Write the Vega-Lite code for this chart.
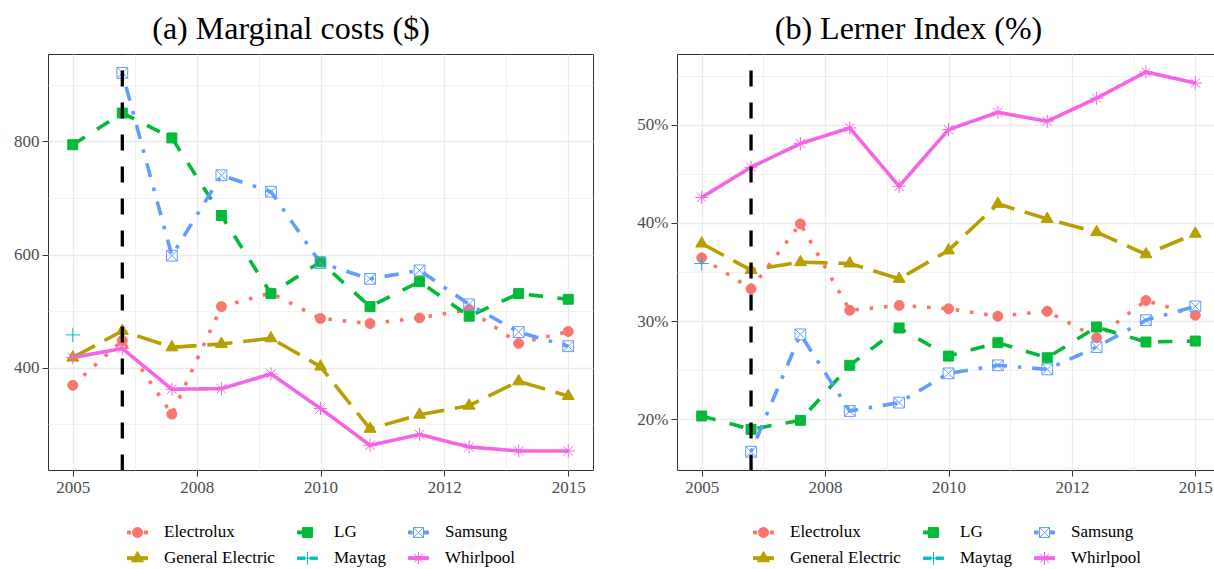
{
  "$schema": "https://vega.github.io/schema/vega-lite/v6.json",
  "padding": {"left": 0, "top": 12, "right": 0, "bottom": 0},
  "data": {"values": [
    {"company": "Electrolux", "year": 2005, "mc": 369, "lerner": 0.3645},
    {"company": "Electrolux", "year": 2006, "mc": 448, "lerner": 0.333},
    {"company": "Electrolux", "year": 2007, "mc": 318, "lerner": 0.399},
    {"company": "Electrolux", "year": 2008, "mc": 508, "lerner": 0.311},
    {"company": "Electrolux", "year": 2009, "mc": 532, "lerner": 0.316},
    {"company": "Electrolux", "year": 2010, "mc": 487, "lerner": 0.3126},
    {"company": "Electrolux", "year": 2011, "mc": 478, "lerner": 0.305},
    {"company": "Electrolux", "year": 2012, "mc": 488, "lerner": 0.310},
    {"company": "Electrolux", "year": 2013, "mc": 503, "lerner": 0.283},
    {"company": "Electrolux", "year": 2014, "mc": 443, "lerner": 0.321},
    {"company": "Electrolux", "year": 2015, "mc": 464, "lerner": 0.306},
    {"company": "General Electric", "year": 2005, "mc": 418, "lerner": 0.379},
    {"company": "General Electric", "year": 2006, "mc": 465, "lerner": 0.352},
    {"company": "General Electric", "year": 2007, "mc": 436, "lerner": 0.360},
    {"company": "General Electric", "year": 2008, "mc": 442, "lerner": 0.3587},
    {"company": "General Electric", "year": 2009, "mc": 452, "lerner": 0.343},
    {"company": "General Electric", "year": 2010, "mc": 402, "lerner": 0.372},
    {"company": "General Electric", "year": 2011, "mc": 292, "lerner": 0.4194},
    {"company": "General Electric", "year": 2012, "mc": 317, "lerner": 0.404},
    {"company": "General Electric", "year": 2013, "mc": 333, "lerner": 0.3906},
    {"company": "General Electric", "year": 2014, "mc": 376, "lerner": 0.368},
    {"company": "General Electric", "year": 2015, "mc": 350, "lerner": 0.389},
    {"company": "LG", "year": 2005, "mc": 794, "lerner": 0.2034},
    {"company": "LG", "year": 2006, "mc": 850, "lerner": 0.1898},
    {"company": "LG", "year": 2007, "mc": 806, "lerner": 0.199},
    {"company": "LG", "year": 2008, "mc": 669, "lerner": 0.255},
    {"company": "LG", "year": 2009, "mc": 531, "lerner": 0.293},
    {"company": "LG", "year": 2010, "mc": 587, "lerner": 0.2644},
    {"company": "LG", "year": 2011, "mc": 508, "lerner": 0.278},
    {"company": "LG", "year": 2012, "mc": 552, "lerner": 0.2627},
    {"company": "LG", "year": 2013, "mc": 491, "lerner": 0.294},
    {"company": "LG", "year": 2014, "mc": 531, "lerner": 0.2787},
    {"company": "LG", "year": 2015, "mc": 521, "lerner": 0.2797},
    {"company": "Maytag", "year": 2005, "mc": 458, "lerner": 0.3587},
    {"company": "Samsung", "year": 2006, "mc": 921, "lerner": 0.167},
    {"company": "Samsung", "year": 2007, "mc": 598, "lerner": 0.2865},
    {"company": "Samsung", "year": 2008, "mc": 740, "lerner": 0.2085},
    {"company": "Samsung", "year": 2009, "mc": 711, "lerner": 0.217},
    {"company": "Samsung", "year": 2010, "mc": 585, "lerner": 0.2468},
    {"company": "Samsung", "year": 2011, "mc": 557, "lerner": 0.255},
    {"company": "Samsung", "year": 2012, "mc": 572, "lerner": 0.2509},
    {"company": "Samsung", "year": 2013, "mc": 512, "lerner": 0.2736},
    {"company": "Samsung", "year": 2014, "mc": 463, "lerner": 0.301},
    {"company": "Samsung", "year": 2015, "mc": 438, "lerner": 0.315},
    {"company": "Whirlpool", "year": 2005, "mc": 418, "lerner": 0.426},
    {"company": "Whirlpool", "year": 2006, "mc": 434, "lerner": 0.4567},
    {"company": "Whirlpool", "year": 2007, "mc": 362, "lerner": 0.4808},
    {"company": "Whirlpool", "year": 2008, "mc": 363, "lerner": 0.4967},
    {"company": "Whirlpool", "year": 2009, "mc": 389, "lerner": 0.4373},
    {"company": "Whirlpool", "year": 2010, "mc": 328, "lerner": 0.495},
    {"company": "Whirlpool", "year": 2011, "mc": 263, "lerner": 0.5126},
    {"company": "Whirlpool", "year": 2012, "mc": 282, "lerner": 0.5035},
    {"company": "Whirlpool", "year": 2013, "mc": 260, "lerner": 0.527},
    {"company": "Whirlpool", "year": 2014, "mc": 253, "lerner": 0.5537},
    {"company": "Whirlpool", "year": 2015, "mc": 253, "lerner": 0.5425}
  ]},
  "spacing": 42,
  "hconcat": [
    {
      "title": {"text": "(a) Marginal costs ($)", "fontSize": 32, "font": "Liberation Serif", "fontWeight": "normal", "color": "#000000", "offset": 6.3, "dx": -29.5},
      "width": 545,
      "height": 416,
      "resolve": {
        "scale": {"fill": "independent", "stroke": "independent", "shape": "independent", "strokeDash": "independent"},
        "legend": {"fill": "independent", "stroke": "independent", "shape": "independent", "strokeDash": "independent"}
      },
      "layer": [
        {
          "mark": {"type": "line", "strokeWidth": 3.6, "strokeCap": "butt"},
          "encoding": {
            "x": {"field": "year", "type": "quantitative", "scale": {"domain": [2004.5, 2015.5], "nice": false, "zero": false},
              "axis": {"title": null, "values": [2005, 2006.25, 2007.5, 2008.75, 2010, 2011.25, 2012.5, 2013.75, 2015],
                "labelExpr": "datum.value == 2005 ? '2005' : datum.value == 2007.5 ? '2008' : datum.value == 2010 ? '2010' : datum.value == 2012.5 ? '2012' : datum.value == 2015 ? '2015' : ''",
                "labelFlush": false, "labelOverlap": false, "grid": true,
                "gridWidth": {"condition": {"test": "(datum.value - 2005) % 2.5 == 0", "value": 1.3}, "value": 0.7},
                "tickOpacity": {"condition": {"test": "(datum.value - 2005) % 2.5 == 0", "value": 1}, "value": 0}}},
            "y": {"field": "mc", "type": "quantitative", "scale": {"domain": [219.3, 954.3], "nice": false, "zero": false},
              "axis": {"title": null, "values": [300, 400, 500, 600, 700, 800, 900],
                "labelExpr": "datum.value % 200 == 0 ? datum.label : ''",
                "labelFlush": false, "labelOverlap": false, "grid": true, "minExtent": 47, "maxExtent": 47,
                "gridWidth": {"condition": {"test": "datum.value % 200 == 0", "value": 1.3}, "value": 0.7},
                "tickOpacity": {"condition": {"test": "datum.value % 200 == 0", "value": 1}, "value": 0}}},
            "stroke": {"field": "company", "type": "nominal", "legend": null,
              "scale": {"domain": ["Electrolux", "General Electric", "LG", "Maytag", "Samsung", "Whirlpool"],
                "range": ["#F8766D", "#B79F00", "#00BA38", "#00BFC4", "#619CFF", "#F564E3"]}},
            "strokeDash": {"field": "company", "type": "nominal", "legend": null,
              "scale": {"domain": ["Electrolux", "General Electric", "LG", "Maytag", "Samsung", "Whirlpool"],
                "range": [[3.6, 10.8], [25.2, 10.8], [14.4, 14.4], [1, 0], [3.6, 10.8, 14.4, 10.8], [1, 0]]}}
          }
        },
        {
          "mark": {"type": "point", "filled": true, "opacity": 1, "size": 144, "strokeWidth": 1},
          "encoding": {
            "x": {"field": "year", "type": "quantitative", "scale": {"domain": [2004.5, 2015.5], "nice": false, "zero": false}},
            "y": {"field": "mc", "type": "quantitative", "scale": {"domain": [219.3, 954.3], "nice": false, "zero": false}},
            "fill": {"field": "company", "type": "nominal", "legend": null,
              "scale": {"domain": ["Electrolux", "General Electric", "LG", "Maytag", "Samsung", "Whirlpool"],
                "range": ["#F8766D", "#B79F00", "#00BA38", "#00BFC4", "#619CFF", "#F564E3"]}},
            "stroke": {"field": "company", "type": "nominal", "legend": null,
              "scale": {"domain": ["Electrolux", "General Electric", "LG", "Maytag", "Samsung", "Whirlpool"],
                "range": ["#F8766D", "#B79F00", "#00BA38", "#00BFC4", "#619CFF", "#F564E3"]}},
            "shape": {"field": "company", "type": "nominal", "legend": null,
              "scale": {"domain": ["Electrolux", "General Electric", "LG", "Maytag", "Samsung", "Whirlpool"],
                "range": [
                  "M-0.83,0A0.83,0.83 0 1,0 0.83,0A0.83,0.83 0 1,0 -0.83,0Z",
                  "M0,-1.15L1.0,0.58L-1.0,0.58Z",
                  "M-0.83,-0.83H0.83V0.83H-0.83Z",
                  "M0,-1.2V1.2M-1.2,0H1.2",
                  "M-0.9,-0.9H0.9M0.9,-0.9V0.9M0.9,0.9H-0.9M-0.9,0.9V-0.9M-0.9,-0.9L0.9,0.9M-0.9,0.9L0.9,-0.9",
                  "M0,-1.1V1.1M-1.1,0H1.1M-0.78,-0.78L0.78,0.78M-0.78,0.78L0.78,-0.78"
                ]}}
          }
        },
        {
          "transform": [{"filter": "false"}],
          "mark": {"type": "point", "filled": true, "opacity": 1, "strokeWidth": 1},
          "encoding": {
            "fill": {"field": "company", "type": "nominal",
              "legend": {"orient": "none", "legendX": 79, "legendY": 467.7, "direction": "horizontal", "columns": 3, "title": null, "symbolSize": 400, "symbolStrokeWidth": 1, "labelFontSize": 17, "labelFont": "Liberation Serif", "labelColor": "#000000", "labelOffset": 16, "columnPadding": 20, "rowPadding": 7, "padding": 0},
              "scale": {"domain": ["Electrolux", "LG", "Samsung", "General Electric", "Maytag", "Whirlpool"],
                "range": ["#F8766D", "#00BA38", "#619CFF", "#B79F00", "#00BFC4", "#F564E3"]}},
            "stroke": {"field": "company", "type": "nominal",
              "legend": {"orient": "none", "legendX": 79, "legendY": 467.7, "direction": "horizontal", "columns": 3, "title": null, "symbolSize": 400, "symbolStrokeWidth": 1, "labelFontSize": 17, "labelFont": "Liberation Serif", "labelColor": "#000000", "labelOffset": 16, "columnPadding": 20, "rowPadding": 7, "padding": 0},
              "scale": {"domain": ["Electrolux", "LG", "Samsung", "General Electric", "Maytag", "Whirlpool"],
                "range": ["#F8766D", "#00BA38", "#619CFF", "#B79F00", "#00BFC4", "#F564E3"]}},
            "shape": {"field": "company", "type": "nominal",
              "legend": {"orient": "none", "legendX": 79, "legendY": 467.7, "direction": "horizontal", "columns": 3, "title": null, "symbolSize": 400, "symbolStrokeWidth": 1, "labelFontSize": 17, "labelFont": "Liberation Serif", "labelColor": "#000000", "labelOffset": 16, "columnPadding": 20, "rowPadding": 7, "padding": 0},
              "scale": {"domain": ["Electrolux", "LG", "Samsung", "General Electric", "Maytag", "Whirlpool"],
                "range": [
                  "M-1,-0.15H-0.68V0.15H-1Z M0.68,-0.15H1V0.15H0.68Z M-0.5,0A0.5,0.5 0 1,0 0.5,0A0.5,0.5 0 1,0 -0.5,0Z",
                  "M-1,-0.15H0V0.15H-1Z M-0.5,-0.5H0.5V0.5H-0.5Z",
                  "M-1,-0.15H-0.64V0.15H-1Z M0.5,-0.15H1V0.15H0.5Z M-0.5,-0.5H0.5M0.5,-0.5V0.5M0.5,0.5H-0.5M-0.5,0.5V-0.5M-0.5,-0.5L0.5,0.5M-0.5,0.5L0.5,-0.5",
                  "M-1,-0.15H1V0.15H-1Z M0,-0.68L0.6,0.36L-0.6,0.36Z",
                  "M-1,-0.12H-0.25V0.12H-1Z M0.25,-0.12H1V0.12H0.25Z M0,-0.65V0.65M-0.65,0H0.65",
                  "M-1,-0.15H1V0.15H-1Z M0,-0.62V0.62M-0.62,0H0.62M-0.44,-0.44L0.44,0.44M-0.44,0.44L0.44,-0.44"
                ]}}
          }
        },
        {
          "data": {"values": [{"event": 2006}]},
          "mark": {"type": "rule", "color": "#000000", "strokeWidth": 3.3, "strokeDash": [16, 16], "strokeDashOffset": 15.6},
          "encoding": {
            "x": {"field": "event", "type": "quantitative", "scale": {"domain": [2004.5, 2015.5], "nice": false, "zero": false}}
          }
        }
      ]
    },
    {
      "title": {"text": "(b) Lerner Index (%)", "fontSize": 32, "font": "Liberation Serif", "fontWeight": "normal", "color": "#000000", "offset": 6.3, "dx": -40},
      "width": 543,
      "height": 416,
      "resolve": {
        "scale": {"fill": "independent", "stroke": "independent", "shape": "independent", "strokeDash": "independent"},
        "legend": {"fill": "independent", "stroke": "independent", "shape": "independent", "strokeDash": "independent"}
      },
      "layer": [
        {
          "mark": {"type": "line", "strokeWidth": 3.6, "strokeCap": "butt"},
          "encoding": {
            "x": {"field": "year", "type": "quantitative", "scale": {"domain": [2004.5, 2015.5], "nice": false, "zero": false},
              "axis": {"title": null, "values": [2005, 2006.25, 2007.5, 2008.75, 2010, 2011.25, 2012.5, 2013.75, 2015],
                "labelExpr": "datum.value == 2005 ? '2005' : datum.value == 2007.5 ? '2008' : datum.value == 2010 ? '2010' : datum.value == 2012.5 ? '2012' : datum.value == 2015 ? '2015' : ''",
                "labelFlush": false, "labelOverlap": false, "grid": true,
                "gridWidth": {"condition": {"test": "(datum.value - 2005) % 2.5 == 0", "value": 1.3}, "value": 0.7},
                "tickOpacity": {"condition": {"test": "(datum.value - 2005) % 2.5 == 0", "value": 1}, "value": 0}}},
            "y": {"field": "lerner", "type": "quantitative", "scale": {"domain": [0.1484, 0.572], "nice": false, "zero": false},
              "axis": {"title": null, "values": [0.15, 0.2, 0.25, 0.3, 0.35, 0.4, 0.45, 0.5, 0.55], "format": ".0%",
                "labelExpr": "round(datum.value * 100) % 10 == 0 ? datum.label : ''",
                "labelFlush": false, "labelOverlap": false, "grid": true, "minExtent": 40, "maxExtent": 40,
                "gridWidth": {"condition": {"test": "round(datum.value * 100) % 10 == 0", "value": 1.3}, "value": 0.7},
                "tickOpacity": {"condition": {"test": "round(datum.value * 100) % 10 == 0", "value": 1}, "value": 0}}},
            "stroke": {"field": "company", "type": "nominal", "legend": null,
              "scale": {"domain": ["Electrolux", "General Electric", "LG", "Maytag", "Samsung", "Whirlpool"],
                "range": ["#F8766D", "#B79F00", "#00BA38", "#00BFC4", "#619CFF", "#F564E3"]}},
            "strokeDash": {"field": "company", "type": "nominal", "legend": null,
              "scale": {"domain": ["Electrolux", "General Electric", "LG", "Maytag", "Samsung", "Whirlpool"],
                "range": [[3.6, 10.8], [25.2, 10.8], [14.4, 14.4], [1, 0], [3.6, 10.8, 14.4, 10.8], [1, 0]]}}
          }
        },
        {
          "mark": {"type": "point", "filled": true, "opacity": 1, "size": 144, "strokeWidth": 1},
          "encoding": {
            "x": {"field": "year", "type": "quantitative", "scale": {"domain": [2004.5, 2015.5], "nice": false, "zero": false}},
            "y": {"field": "lerner", "type": "quantitative", "scale": {"domain": [0.1484, 0.572], "nice": false, "zero": false}},
            "fill": {"field": "company", "type": "nominal", "legend": null,
              "scale": {"domain": ["Electrolux", "General Electric", "LG", "Maytag", "Samsung", "Whirlpool"],
                "range": ["#F8766D", "#B79F00", "#00BA38", "#00BFC4", "#619CFF", "#F564E3"]}},
            "stroke": {"field": "company", "type": "nominal", "legend": null,
              "scale": {"domain": ["Electrolux", "General Electric", "LG", "Maytag", "Samsung", "Whirlpool"],
                "range": ["#F8766D", "#B79F00", "#00BA38", "#00BFC4", "#619CFF", "#F564E3"]}},
            "shape": {"field": "company", "type": "nominal", "legend": null,
              "scale": {"domain": ["Electrolux", "General Electric", "LG", "Maytag", "Samsung", "Whirlpool"],
                "range": [
                  "M-0.83,0A0.83,0.83 0 1,0 0.83,0A0.83,0.83 0 1,0 -0.83,0Z",
                  "M0,-1.15L1.0,0.58L-1.0,0.58Z",
                  "M-0.83,-0.83H0.83V0.83H-0.83Z",
                  "M0,-1.2V1.2M-1.2,0H1.2",
                  "M-0.9,-0.9H0.9M0.9,-0.9V0.9M0.9,0.9H-0.9M-0.9,0.9V-0.9M-0.9,-0.9L0.9,0.9M-0.9,0.9L0.9,-0.9",
                  "M0,-1.1V1.1M-1.1,0H1.1M-0.78,-0.78L0.78,0.78M-0.78,0.78L0.78,-0.78"
                ]}}
          }
        },
        {
          "transform": [{"filter": "false"}],
          "mark": {"type": "point", "filled": true, "opacity": 1, "strokeWidth": 1},
          "encoding": {
            "fill": {"field": "company", "type": "nominal",
              "legend": {"orient": "none", "legendX": 76, "legendY": 467.7, "direction": "horizontal", "columns": 3, "title": null, "symbolSize": 400, "symbolStrokeWidth": 1, "labelFontSize": 17, "labelFont": "Liberation Serif", "labelColor": "#000000", "labelOffset": 16, "columnPadding": 20, "rowPadding": 7, "padding": 0},
              "scale": {"domain": ["Electrolux", "LG", "Samsung", "General Electric", "Maytag", "Whirlpool"],
                "range": ["#F8766D", "#00BA38", "#619CFF", "#B79F00", "#00BFC4", "#F564E3"]}},
            "stroke": {"field": "company", "type": "nominal",
              "legend": {"orient": "none", "legendX": 76, "legendY": 467.7, "direction": "horizontal", "columns": 3, "title": null, "symbolSize": 400, "symbolStrokeWidth": 1, "labelFontSize": 17, "labelFont": "Liberation Serif", "labelColor": "#000000", "labelOffset": 16, "columnPadding": 20, "rowPadding": 7, "padding": 0},
              "scale": {"domain": ["Electrolux", "LG", "Samsung", "General Electric", "Maytag", "Whirlpool"],
                "range": ["#F8766D", "#00BA38", "#619CFF", "#B79F00", "#00BFC4", "#F564E3"]}},
            "shape": {"field": "company", "type": "nominal",
              "legend": {"orient": "none", "legendX": 76, "legendY": 467.7, "direction": "horizontal", "columns": 3, "title": null, "symbolSize": 400, "symbolStrokeWidth": 1, "labelFontSize": 17, "labelFont": "Liberation Serif", "labelColor": "#000000", "labelOffset": 16, "columnPadding": 20, "rowPadding": 7, "padding": 0},
              "scale": {"domain": ["Electrolux", "LG", "Samsung", "General Electric", "Maytag", "Whirlpool"],
                "range": [
                  "M-1,-0.15H-0.68V0.15H-1Z M0.68,-0.15H1V0.15H0.68Z M-0.5,0A0.5,0.5 0 1,0 0.5,0A0.5,0.5 0 1,0 -0.5,0Z",
                  "M-1,-0.15H0V0.15H-1Z M-0.5,-0.5H0.5V0.5H-0.5Z",
                  "M-1,-0.15H-0.64V0.15H-1Z M0.5,-0.15H1V0.15H0.5Z M-0.5,-0.5H0.5M0.5,-0.5V0.5M0.5,0.5H-0.5M-0.5,0.5V-0.5M-0.5,-0.5L0.5,0.5M-0.5,0.5L0.5,-0.5",
                  "M-1,-0.15H1V0.15H-1Z M0,-0.68L0.6,0.36L-0.6,0.36Z",
                  "M-1,-0.12H-0.25V0.12H-1Z M0.25,-0.12H1V0.12H0.25Z M0,-0.65V0.65M-0.65,0H0.65",
                  "M-1,-0.15H1V0.15H-1Z M0,-0.62V0.62M-0.62,0H0.62M-0.44,-0.44L0.44,0.44M-0.44,0.44L0.44,-0.44"
                ]}}
          }
        },
        {
          "data": {"values": [{"event": 2006}]},
          "mark": {"type": "rule", "color": "#000000", "strokeWidth": 3.3, "strokeDash": [16, 16], "strokeDashOffset": 15.6},
          "encoding": {
            "x": {"field": "event", "type": "quantitative", "scale": {"domain": [2004.5, 2015.5], "nice": false, "zero": false}}
          }
        }
      ]
    }
  ],
  "config": {
    "font": "Liberation Serif",
    "view": {"stroke": "#333333", "strokeWidth": 1},
    "axis": {"domain": false, "labelFont": "Liberation Serif", "labelFontSize": 17, "labelColor": "#4D4D4D", "tickColor": "#333333", "tickSize": 6, "tickWidth": 1, "labelPadding": 3, "gridColor": "#EBEBEB"}
  }
}
